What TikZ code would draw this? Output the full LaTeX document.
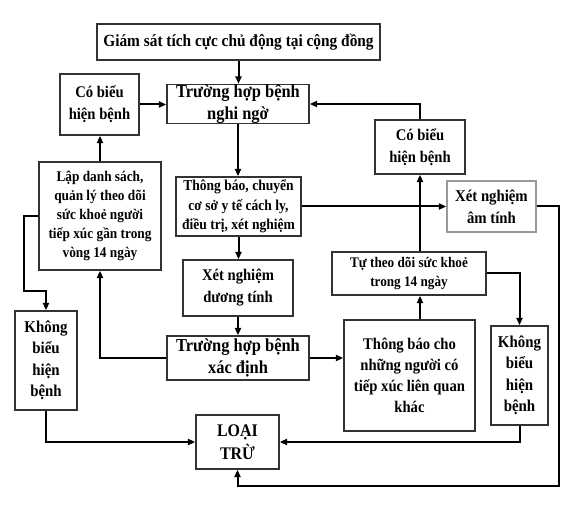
\documentclass[tikz,border=0pt]{standalone}
\usepackage{fontspec}
\setmainfont{Liberation Serif}[FakeStretch=0.9]
\usetikzlibrary{arrows.meta}
\newcommand\fsz[2]{\fontsize{#1}{#2}\selectfont\bfseries}
% \bx{name}{x1}{y1}{x2}{y2}{extra style}{text}
\newcommand\bx[7]{\node[box,#6,minimum width={(#4-#2)*0.75pt},minimum height={(#5-#3)*0.75pt}] (#1) at ({(#2+#4)/2},{(#3+#5)/2}) {#7};}
\begin{document}
\begin{tikzpicture}[x=0.75pt,y=-0.75pt,
  box/.style={draw=black!80, line width=1.1pt, inner sep=0pt, align=center, anchor=center},
  graybox/.style={draw=black!40},
  arr/.style={-{Triangle[length=5.5pt,width=4.5pt]}, line width=1.5pt}]
\useasboundingbox (0,0) rectangle (576,505);
\fill[white] (0,0) rectangle (576,505);

\bx{top}{97}{24}{380}{60}{font=\fsz{12.8}{15}}{Giám sát tích cực chủ động tại cộng đồng}
\bx{cob1}{60}{74}{139}{135}{font=\fsz{12.2}{16.5}}{Có biểu\\hiện bệnh}
\bx{nghi}{167}{85}{309}{123}{font=\fsz{13.7}{16.5}}{Trường hợp bệnh\\nghi ngờ}
\bx{cob2}{375}{120}{465}{174}{font=\fsz{12.2}{16.5}}{Có biểu\\hiện bệnh}
\bx{lap}{39}{162}{161}{270}{font=\fsz{11.1}{14.3}}{Lập danh sách,\\quản lý theo dõi\\sức khoẻ người\\tiếp xúc gần trong\\vòng 14 ngày}
\bx{tb1}{176}{177}{301}{236}{font=\fsz{11.3}{14.6}}{Thông báo, chuyển\\cơ sở y tế cách ly,\\điều trị, xét nghiệm}
\bx{am}{447}{181}{536}{232}{graybox,font=\fsz{12.3}{16.3}}{Xét nghiệm\\âm tính}
\bx{duong}{183}{260}{293}{316}{font=\fsz{12.2}{16.5}}{Xét nghiệm\\dương tính}
\bx{tu}{332}{252}{486}{295}{font=\fsz{11}{13.9}}{Tự theo dõi sức khoẻ\\trong 14 ngày}
\bx{xd}{167}{336}{309}{380}{font=\fsz{13.7}{17}}{Trường hợp bệnh\\xác định}
\bx{tbc}{344}{320}{475}{431}{font=\fsz{12.2}{15.8}}{Thông báo cho\\những người có\\tiếp xúc liên quan\\khác}
\bx{khong1}{15}{311}{77}{410}{font=\fsz{12.4}{16.1}}{Không\\biểu\\hiện\\bệnh}
\bx{khong2}{491}{326}{548}{425}{font=\fsz{12.4}{16.1}}{Không\\biểu\\hiện\\bệnh}
\bx{loai}{196}{415}{279}{469}{font=\fsz{13.3}{17}}{LOẠI\\TRỪ}

\coordinate (b1) at (24,291);
\coordinate (b2) at (559,486);

\draw[arr] (top.south) -- (top.south |- nghi.north);
\draw[arr] (cob1) -- (cob1 -| nghi.west);
\draw[arr] (cob2.north) |- (nghi.east);
\draw[arr] (nghi.south) -- (nghi.south |- tb1.north);
\draw[arr] (tb1.east) -- (tb1.east -| am.west);
\draw[arr] (tb1.south) -- (tb1.south |- duong.north);
\draw[arr] (duong.south) -- (duong.south |- xd.north);
\draw[arr] (xd.west) -| (lap.south);
\draw[arr] (lap.north) -- (lap.north |- cob1.south);
\draw[arr] (lap.west) -| (b1) -| (khong1.north);
\draw[arr] (khong1.south) |- (loai.west);
\draw[arr] (xd.east) -- (xd.east -| tbc.west);
\draw[arr] (tbc.north -| cob2) -- (tu.south -| cob2);
\draw[arr] (tu.north -| cob2) -- (cob2.south);
\draw[arr] (tu.east) -| (khong2.north);
\draw[arr] (khong2.south) |- (loai.east);
\draw[arr] (am.east) -| (b2) -| (loai.south);
\end{tikzpicture}
\end{document}
